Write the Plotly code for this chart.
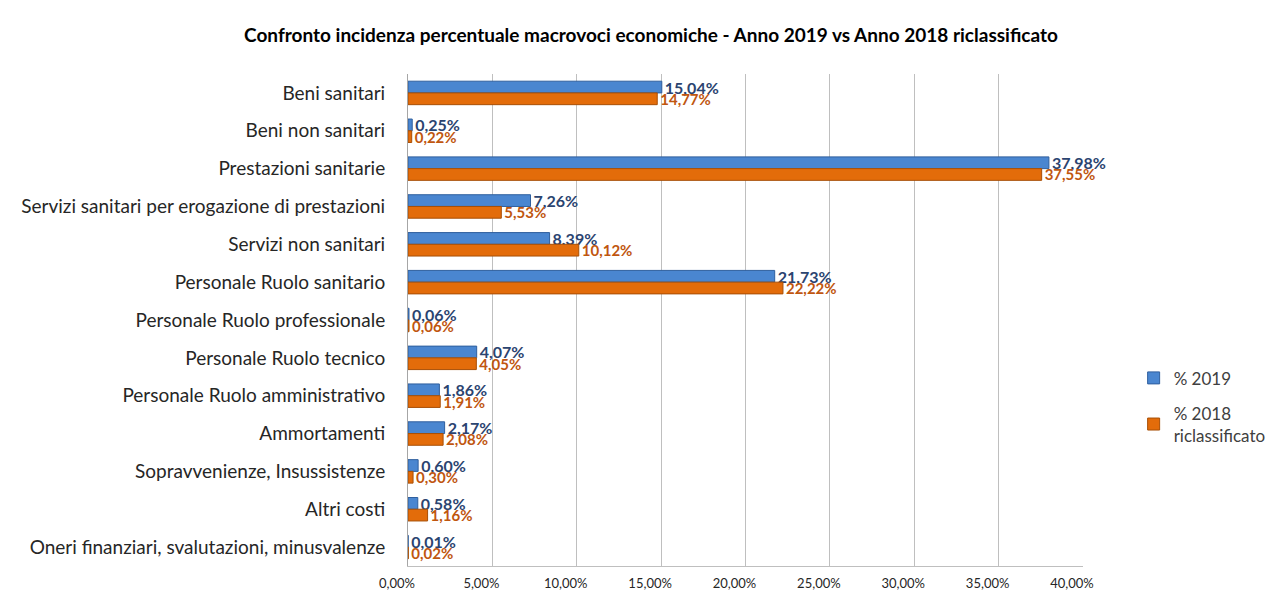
import plotly.graph_objects as go

categories = [
    "Beni sanitari",
    "Beni non sanitari",
    "Prestazioni sanitarie",
    "Servizi sanitari per erogazione di prestazioni",
    "Servizi non sanitari",
    "Personale Ruolo sanitario",
    "Personale Ruolo professionale",
    "Personale Ruolo tecnico",
    "Personale Ruolo amministrativo",
    "Ammortamenti",
    "Sopravvenienze, Insussistenze",
    "Altri costi",
    "Oneri finanziari, svalutazioni, minusvalenze",
]
values_2019 = [15.04, 0.25, 37.98, 7.26, 8.39, 21.73, 0.06, 4.07, 1.86, 2.17, 0.60, 0.58, 0.01]
values_2018 = [14.77, 0.22, 37.55, 5.53, 10.12, 22.22, 0.06, 4.05, 1.91, 2.08, 0.30, 1.16, 0.02]
tick_values = [0, 5, 10, 15, 20, 25, 30, 35, 40]
tick_labels = ["0,00%", "5,00%", "10,00%", "15,00%", "20,00%", "25,00%", "30,00%", "35,00%", "40,00%"]
series_names = ["% 2019", "% 2018<br>riclassificato"]

FONT = "Lato, Calibri, Carlito, 'Open Sans', sans-serif"

fig = go.Figure()
fig.add_trace(go.Bar(
    y=categories, x=values_2019, orientation="h", name=series_names[0], legendgroup="g2019",
    marker=dict(color="#4A86D0", line=dict(color="#2F5F9E", width=1)),
    texttemplate="%{x:.2f}%", textposition="outside", constraintext="none",
    textfont=dict(family=FONT, size=16, color="#2B4470", weight="bold"),
    cliponaxis=False,
))
fig.add_trace(go.Bar(
    y=categories, x=values_2018, orientation="h", name=series_names[1], legendgroup="g2018",
    marker=dict(color="#E36C0A", line=dict(color="#A84F06", width=1)),
    texttemplate="%{x:.2f}%", textposition="outside", constraintext="none",
    textfont=dict(family=FONT, size=15, color="#C0560F", weight="bold"),
    cliponaxis=False,
))

fig.update_layout(
    width=1272, height=590,
    separators=",.",
    barmode="group", bargap=0.38, bargroupgap=0.0,
    paper_bgcolor="white", plot_bgcolor="white",
    margin=dict(l=400, r=197, t=66, b=32, autoexpand=False),
    title=dict(
        text="<b>Confronto incidenza percentuale macrovoci economiche - Anno 2019 vs Anno 2018 riclassificato</b>",
        x=0.5055, xref="container", y=0.953, yref="container", xanchor="center", yanchor="middle",
        font=dict(family=FONT, size=19, color="#000000"),
    ),
    font=dict(family=FONT, color="#262626"),
    legend=dict(
        x=1.075, y=0.418, xanchor="left", yanchor="top",
        font=dict(family=FONT, size=17, color="#404040"),
        traceorder="grouped", tracegroupgap=10, bgcolor="rgba(0,0,0,0)",
    ),
)
fig.update_xaxes(
    range=[0, 40], tickvals=tick_values, ticktext=tick_labels,
    showgrid=True, gridcolor="#BFBFBF", gridwidth=1,
    zeroline=False, showline=True, linecolor="#BFBFBF",
    tickfont=dict(family=FONT, size=13, color="#262626"),
    ticks="", ticklabelshift=-11, ticklabelstandoff=5,
)
fig.update_yaxes(
    autorange="reversed", showgrid=False, showline=True, linecolor="#A6A6A6", linewidth=1,
    tickfont=dict(family=FONT, size=19, color="#262626"),
    ticks="", ticklabelstandoff=18,
)

fig.write_html("out.html")
